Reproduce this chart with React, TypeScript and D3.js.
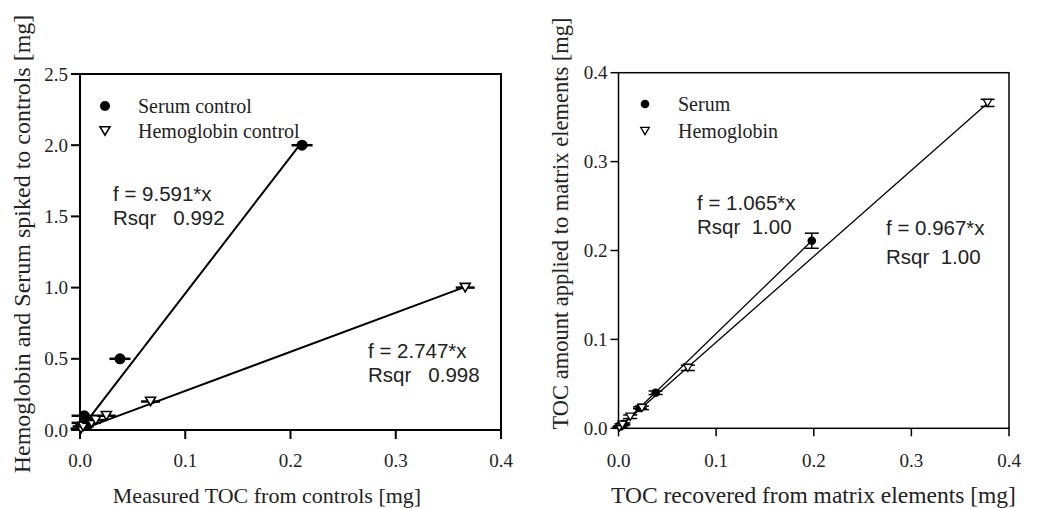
import React from "react";
import * as d3 from "d3";

// ---- Left panel data ----
const serumCtrlX = [0.004, 0.004, 0.038, 0.211];
const serumCtrlY = [0.05, 0.1, 0.5, 2.0];
const serumCtrlXErr = [0.012, 0.012, 0.01, 0.01];
const hemoCtrlX = [0.001, 0.003, 0.011, 0.015, 0.025, 0.067, 0.366];
const hemoCtrlY = [0.01, 0.025, 0.05, 0.07, 0.1, 0.2, 1.0];
const hemoCtrlXErr = [0.01, 0.01, 0.009, 0.009, 0.009, 0.009, 0.009];
const serumCtrlSlope = 9.591;
const hemoCtrlSlope = 2.747;

// ---- Right panel data ----
const serumX = [0.002, 0.005, 0.022, 0.038, 0.198];
const serumY = [0.002, 0.005, 0.023, 0.04, 0.211];
const serumYErr = [0.001, 0.001, 0.001, 0.002, 0.0085];
const hemoX = [0.001, 0.004, 0.012, 0.024, 0.071, 0.378];
const hemoY = [0.001, 0.004, 0.013, 0.023, 0.068, 0.366];
const hemoYErr = [0.001, 0.001, 0.002, 0.002, 0.003, 0.004];
const serumSlope = 1.065;
const hemoSlope = 0.967;

const leftXTicks = [0, 0.1, 0.2, 0.3, 0.4];
const leftYTicks = [0, 0.5, 1.0, 1.5, 2.0, 2.5];
const rightXTicks = [0, 0.1, 0.2, 0.3, 0.4];
const rightYTicks = [0, 0.1, 0.2, 0.3, 0.4];

const SERIF = "'Liberation Serif', 'Times New Roman', serif";
const SANS = "'Liberation Sans', Arial, sans-serif";

function tri(cx: number, cy: number, s: number) {
  const h = s * 0.85;
  return `M${cx - s / 2},${cy - h / 2}L${cx + s / 2},${cy - h / 2}L${cx},${cy + h / 2}Z`;
}

function Frame({ x, y, xTicks, yTicks, sw, tick }: any) {
  const [x0, x1] = x.range();
  const [y0, y1] = y.range();
  const fmt = d3.format(".1f");
  return (
    <g>
      <rect x={x0} y={y1} width={x1 - x0} height={y0 - y1} fill="none" stroke="#000" strokeWidth={sw} />
      {xTicks.map((t: number) => (
        <g key={"x" + t}>
          <line x1={x(t)} x2={x(t)} y1={y0} y2={y0 + tick} stroke="#000" strokeWidth={sw} />
          <text x={x(t)} y={467} textAnchor="middle" fontFamily={SERIF} fontSize={19} fill="#222">
            {fmt(t)}
          </text>
        </g>
      ))}
      {yTicks.map((t: number) => (
        <g key={"y" + t}>
          <line x1={x0 - tick} x2={x0} y1={y(t)} y2={y(t)} stroke="#000" strokeWidth={sw} />
          <text x={x0 - tick - 3} y={y(t) + 6.5} textAnchor="end" fontFamily={SERIF} fontSize={19} fill="#222">
            {fmt(t)}
          </text>
        </g>
      ))}
    </g>
  );
}

export default function App() {
  // Left scales
  const lx = d3.scaleLinear().domain([0, 0.4]).range([80, 501]);
  const ly = d3.scaleLinear().domain([0, 2.5]).range([430, 74]);
  // Right scales
  const rx = d3.scaleLinear().domain([0, 0.4]).range([618.5, 1009]);
  const ry = d3.scaleLinear().domain([0, 0.4]).range([428.3, 72.7]);

  const line = (sx: any, sy: any, slope: number, xs: number[]) => {
    const a = d3.min(xs) as number;
    const b = d3.max(xs) as number;
    return d3.line<number>().x((v) => sx(v)).y((v) => sy(slope * v))([a, b]) as string;
  };

  return (
    <svg width={1064} height={509} style={{ position: "absolute", left: 0, top: 0, background: "#fff" }}>
      <rect width={1064} height={509} fill="#fff" />
      {/* ===== LEFT PANEL ===== */}
      <Frame x={lx} y={ly} xTicks={leftXTicks} yTicks={leftYTicks} sw={2} tick={9} />
      <path d={line(lx, ly, serumCtrlSlope, serumCtrlX)} stroke="#000" strokeWidth={2} fill="none" />
      <path d={line(lx, ly, hemoCtrlSlope, hemoCtrlX)} stroke="#000" strokeWidth={2} fill="none" />
      {serumCtrlX.map((v, i) => (
        <g key={"sc" + i}>
          <line x1={lx(v - serumCtrlXErr[i])} x2={lx(v + serumCtrlXErr[i])} y1={ly(serumCtrlY[i])} y2={ly(serumCtrlY[i])} stroke="#000" strokeWidth={2.5} />
          <circle cx={lx(v)} cy={ly(serumCtrlY[i])} r={5.5} fill="#000" />
        </g>
      ))}
      {hemoCtrlX.map((v, i) => (
        <g key={"hc" + i}>
          <line x1={lx(v - hemoCtrlXErr[i])} x2={lx(v + hemoCtrlXErr[i])} y1={ly(hemoCtrlY[i])} y2={ly(hemoCtrlY[i])} stroke="#000" strokeWidth={2.5} />
          <path d={tri(lx(v), ly(hemoCtrlY[i]), 10)} fill="#fff" stroke="#000" strokeWidth={1.6} />
        </g>
      ))}
      {/* left legend */}
      <circle cx={105} cy={106} r={5} fill="#000" />
      <text x={138} y={113} fontFamily={SERIF} fontSize={20} fill="#222">Serum control</text>
      <path d={tri(105, 131, 10)} fill="#fff" stroke="#000" strokeWidth={1.6} />
      <text x={138} y={138} fontFamily={SERIF} fontSize={20} fill="#222">Hemoglobin control</text>
      {/* left annotations */}
      <text x={113} y={201} fontFamily={SANS} fontSize={20.5} fill="#222">f = 9.591*x</text>
      <text x={113} y={225} fontFamily={SANS} fontSize={20.5} fill="#222" style={{ whiteSpace: "pre" }}>{"Rsqr   0.992"}</text>
      <text x={368} y={358} fontFamily={SANS} fontSize={20.5} fill="#222">f = 2.747*x</text>
      <text x={368} y={382} fontFamily={SANS} fontSize={20.5} fill="#222" style={{ whiteSpace: "pre" }}>{"Rsqr   0.998"}</text>
      {/* left axis titles */}
      <text x={267} y={503} textAnchor="middle" fontFamily={SERIF} fontSize={22} fill="#222">Measured TOC from controls [mg]</text>
      <text transform="translate(30,244) rotate(-90)" textAnchor="middle" fontFamily={SERIF} fontSize={24} fill="#222">Hemoglobin and Serum spiked to controls [mg]</text>

      {/* ===== RIGHT PANEL ===== */}
      <Frame x={rx} y={ry} xTicks={rightXTicks} yTicks={rightYTicks} sw={1.5} tick={8} />
      <path d={line(rx, ry, serumSlope, [0, d3.max(serumX) as number])} stroke="#000" strokeWidth={1.3} fill="none" />
      <path d={line(rx, ry, hemoSlope, [0, d3.max(hemoX) as number])} stroke="#000" strokeWidth={1.3} fill="none" />
      {serumX.map((v, i) => (
        <g key={"s" + i}>
          <line x1={rx(v)} x2={rx(v)} y1={ry(serumY[i] - serumYErr[i])} y2={ry(serumY[i] + serumYErr[i])} stroke="#000" strokeWidth={1.5} />
          <line x1={rx(v) - 7} x2={rx(v) + 7} y1={ry(serumY[i] - serumYErr[i])} y2={ry(serumY[i] - serumYErr[i])} stroke="#000" strokeWidth={1.5} />
          <line x1={rx(v) - 7} x2={rx(v) + 7} y1={ry(serumY[i] + serumYErr[i])} y2={ry(serumY[i] + serumYErr[i])} stroke="#000" strokeWidth={1.5} />
          <circle cx={rx(v)} cy={ry(serumY[i])} r={4.3} fill="#000" />
        </g>
      ))}
      {hemoX.map((v, i) => (
        <g key={"h" + i}>
          <line x1={rx(v)} x2={rx(v)} y1={ry(hemoY[i] - hemoYErr[i])} y2={ry(hemoY[i] + hemoYErr[i])} stroke="#000" strokeWidth={1.5} />
          <line x1={rx(v) - 7} x2={rx(v) + 7} y1={ry(hemoY[i] - hemoYErr[i])} y2={ry(hemoY[i] - hemoYErr[i])} stroke="#000" strokeWidth={1.5} />
          <line x1={rx(v) - 7} x2={rx(v) + 7} y1={ry(hemoY[i] + hemoYErr[i])} y2={ry(hemoY[i] + hemoYErr[i])} stroke="#000" strokeWidth={1.5} />
          <path d={tri(rx(v), ry(hemoY[i]), 8.5)} fill="#fff" stroke="#000" strokeWidth={1.3} />
        </g>
      ))}
      {/* right legend */}
      <circle cx={645} cy={104} r={4.3} fill="#000" />
      <text x={678} y={111} fontFamily={SERIF} fontSize={20} fill="#222">Serum</text>
      <path d={tri(645, 131, 8.5)} fill="#fff" stroke="#000" strokeWidth={1.3} />
      <text x={678} y={138} fontFamily={SERIF} fontSize={20} fill="#222">Hemoglobin</text>
      {/* right annotations */}
      <text x={697} y={210} fontFamily={SANS} fontSize={20.5} fill="#222">f = 1.065*x</text>
      <text x={697} y={234} fontFamily={SANS} fontSize={20.5} fill="#222" style={{ whiteSpace: "pre" }}>{"Rsqr  1.00"}</text>
      <text x={886} y={235} fontFamily={SANS} fontSize={20.5} fill="#222">f = 0.967*x</text>
      <text x={886} y={264} fontFamily={SANS} fontSize={20.5} fill="#222" style={{ whiteSpace: "pre" }}>{"Rsqr  1.00"}</text>
      {/* right axis titles */}
      <text x={813.5} y={503} textAnchor="middle" fontFamily={SERIF} fontSize={23.5} fill="#222">TOC recovered from matrix elements [mg]</text>
      <text transform="translate(568,223.5) rotate(-90)" textAnchor="middle" fontFamily={SERIF} fontSize={22.5} fill="#222">TOC amount applied to matrix elements [mg]</text>
    </svg>
  );
}
